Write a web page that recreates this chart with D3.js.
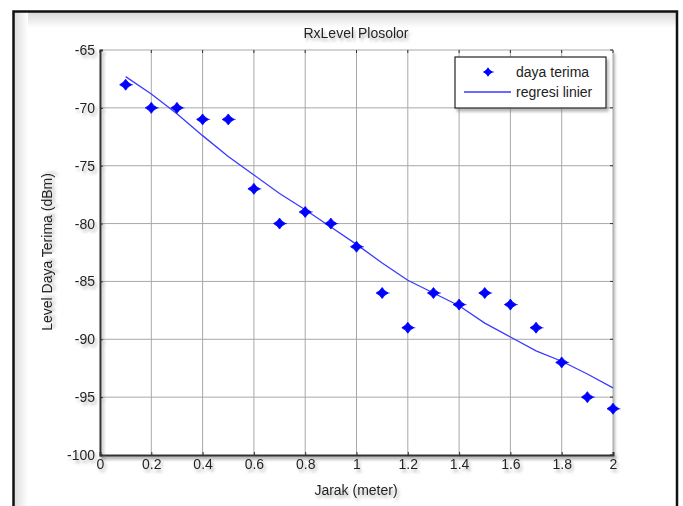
<!DOCTYPE html>
<html>
<head>
<meta charset="utf-8">
<script src="https://cdn.jsdelivr.net/npm/d3@7"></script>
<style>
  body { margin: 0; background: #fff; }
  text { font-family: "Liberation Sans", Arial, sans-serif; fill: #222; }
</style>
</head>
<body>
<div id="chart"></div>
<script>
// data
const jarak = [0.1, 0.2, 0.3, 0.4, 0.5, 0.6, 0.7, 0.8, 0.9, 1.0,
               1.1, 1.2, 1.3, 1.4, 1.5, 1.6, 1.7, 1.8, 1.9, 2.0];
const dayaTerima = [-68, -70, -70, -71, -71, -77, -80, -79, -80, -82,
                    -86, -89, -86, -87, -86, -87, -89, -92, -95, -96];
const regresi = [-67.3, -68.8, -70.5, -72.4, -74.2, -75.8, -77.4, -78.8, -80.3, -81.8,
                 -83.4, -84.9, -86.0, -87.1, -88.6, -89.8, -91.0, -91.9, -93.0, -94.2];
const xTicks = [0, 0.2, 0.4, 0.6, 0.8, 1, 1.2, 1.4, 1.6, 1.8, 2];
const yTicks = [-65, -70, -75, -80, -85, -90, -95, -100];

function draw() {
    const W = 683, H = 506;
    const m = { left: 100, right: 70, top: 50, bottom: 51 };

    const svg = d3.select('#chart').append('svg')
        .attr('width', W).attr('height', H);

    const defs = svg.append('defs');
    const sh = defs.append('filter').attr('id', 'shadow')
        .attr('x', '-20%').attr('y', '-20%').attr('width', '150%').attr('height', '160%');
    sh.append('feDropShadow').attr('dx', 2).attr('dy', 3).attr('stdDeviation', 1.8)
        .attr('flood-color', '#777').attr('flood-opacity', 0.55);

    const top = defs.append('linearGradient').attr('id', 'topShade')
        .attr('x1', 0).attr('y1', 0).attr('x2', 0).attr('y2', 1);
    top.append('stop').attr('offset', '0%').attr('stop-color', '#d8d8d8');
    top.append('stop').attr('offset', '100%').attr('stop-color', '#fff');
    const lft = defs.append('linearGradient').attr('id', 'leftShade')
        .attr('x1', 0).attr('y1', 0).attr('x2', 1).attr('y2', 0);
    lft.append('stop').attr('offset', '0%').attr('stop-color', '#dcdcdc');
    lft.append('stop').attr('offset', '100%').attr('stop-color', '#fff');

    // outer frame with inner shading
    svg.append('rect').attr('x', 14).attr('y', 12).attr('width', 662).attr('height', 16)
        .attr('fill', 'url(#topShade)');
    svg.append('rect').attr('x', 14).attr('y', 12).attr('width', 14).attr('height', 500)
        .attr('fill', 'url(#leftShade)');
    svg.append('path')
        .attr('d', 'M13.5,520 V11.5 H677 V520')
        .attr('fill', 'none').attr('stroke', '#111').attr('stroke-width', 2.5);

    const x = d3.scaleLinear().domain([0, 2]).range([m.left, W - m.right]);
    const y = d3.scaleLinear().domain([-100, -65]).range([H - m.bottom, m.top]);

    const plot = svg.append('g');

    // white plot area with shadow
    plot.append('rect')
        .attr('x', x(0)).attr('y', y(-65))
        .attr('width', x(2) - x(0)).attr('height', y(-100) - y(-65))
        .attr('fill', '#fff').attr('filter', 'url(#shadow)');

    // grid
    plot.append('g').selectAll('line').data(xTicks.slice(1)).join('line')
        .attr('x1', d => x(d)).attr('x2', d => x(d))
        .attr('y1', y(-65)).attr('y2', y(-100))
        .attr('stroke', '#a8a8a8').attr('stroke-width', 1);
    plot.append('g').selectAll('line').data(yTicks.slice(0, -1)).join('line')
        .attr('x1', x(0)).attr('x2', x(2))
        .attr('y1', d => y(d)).attr('y2', d => y(d))
        .attr('stroke', '#a8a8a8').attr('stroke-width', 1);

    // axes
    const xAxis = d3.axisBottom(x).tickValues(xTicks).tickSize(-3).tickPadding(6)
        .tickFormat(d => String(d));
    const yAxis = d3.axisLeft(y).tickValues(yTicks).tickSize(-3).tickPadding(5)
        .tickFormat(d => String(d));

    const gx = svg.append('g').attr('transform', `translate(0,${y(-100)})`)
        .attr('filter', 'url(#shadow)').call(xAxis);
    const gy = svg.append('g').attr('transform', `translate(${x(0)},0)`)
        .attr('filter', 'url(#shadow)').call(yAxis);
    [gx, gy].forEach(g => {
        g.select('.domain').attr('stroke', '#333').attr('stroke-width', 2);
        g.selectAll('.tick line').attr('stroke', '#333');
        g.selectAll('.tick text').style('font-size', '14px').attr('fill', '#222')
            .style('font-family', '"Liberation Sans", Arial, sans-serif');
    });
    gx.selectAll('.tick text').attr('dy', '0.6em');

    // ticks on top and right edges
    svg.append('g').selectAll('line').data(xTicks).join('line')
        .attr('x1', d => x(d)).attr('x2', d => x(d))
        .attr('y1', y(-65)).attr('y2', y(-65) + 3)
        .attr('stroke', '#333');
    svg.append('g').selectAll('line').data(yTicks).join('line')
        .attr('x1', x(2)).attr('x2', x(2) - 3)
        .attr('y1', d => y(d)).attr('y2', d => y(d))
        .attr('stroke', '#333');

    // regression line
    const line = d3.line().x((d, i) => x(jarak[i])).y(d => y(d));
    svg.append('path').datum(regresi)
        .attr('d', line)
        .attr('fill', 'none').attr('stroke', '#3a3aff').attr('stroke-width', 1.3);

    // markers
    const star = 'M0,-5.5 L2.4,-2.4 L6,0 L2.4,2.4 L0,5.5 L-2.4,2.4 L-6,0 L-2.4,-2.4 Z';
    const pts = svg.append('g').selectAll('g').data(dayaTerima).join('g')
        .attr('transform', (d, i) => `translate(${x(jarak[i])},${y(d)})`);
    pts.append('path').attr('d', star).attr('fill', '#0000ff')
        .attr('stroke', '#0000ff').attr('stroke-width', 0.8).attr('stroke-linejoin', 'round');
    pts.append('path').attr('d', 'M0,0 H7.5')
        .attr('stroke', '#0000ff').attr('stroke-width', 1.2).attr('opacity', 0.6);

    // title and labels
    svg.append('text').attr('x', 356).attr('y', 38).attr('text-anchor', 'middle')
        .attr('filter', 'url(#shadow)').style('font-size', '14px')
        .text('RxLevel Plosolor');
    svg.append('text').attr('x', 356).attr('y', 495).attr('text-anchor', 'middle')
        .attr('filter', 'url(#shadow)').style('font-size', '14px')
        .text('Jarak (meter)');
    svg.append('text')
        .attr('transform', 'translate(52,252) rotate(-90)')
        .attr('text-anchor', 'middle')
        .attr('filter', 'url(#shadow)').style('font-size', '14px')
        .text('Level Daya Terima (dBm)');

    // legend
    const lg = svg.append('g').attr('transform', 'translate(455,57)');
    lg.append('rect').attr('width', 151).attr('height', 51)
        .attr('fill', '#fff').attr('stroke', '#222').attr('stroke-width', 1.2)
        .attr('filter', 'url(#shadow)');
    const lm = lg.append('g').attr('transform', 'translate(33,15)');
    lm.append('path').attr('d', star).attr('fill', '#0000ff').attr('transform', 'scale(0.85)');
    lm.append('path').attr('d', 'M0,0 H6')
        .attr('stroke', '#0000ff').attr('stroke-width', 1.1).attr('opacity', 0.6);
    lg.append('line').attr('x1', 9).attr('x2', 56).attr('y1', 35).attr('y2', 35)
        .attr('stroke', '#3a3aff').attr('stroke-width', 1.3);
    lg.append('text').attr('x', 61).attr('y', 20).style('font-size', '14px').text('daya terima');
    lg.append('text').attr('x', 61).attr('y', 40).style('font-size', '14px').text('regresi linier');
}

document.addEventListener('DOMContentLoaded', draw);
</script>
</body>
</html>
